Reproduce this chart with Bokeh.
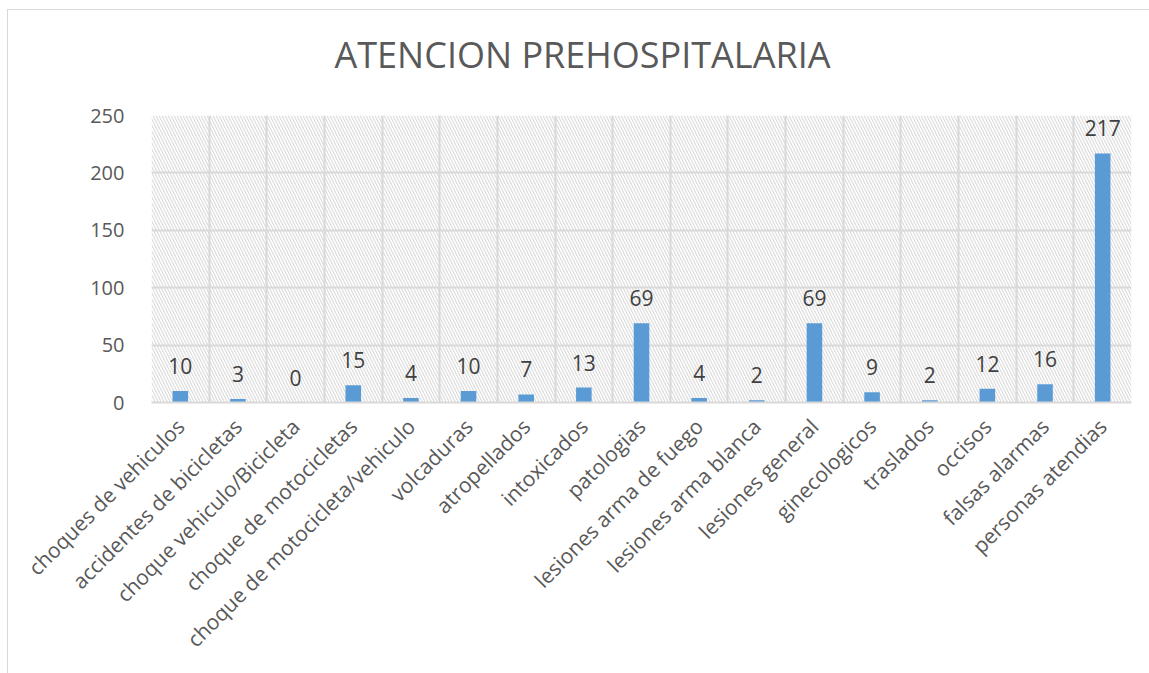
import math
from bokeh.plotting import figure
from bokeh.models import ColumnDataSource, FixedTicker, LabelSet, BoxAnnotation, Range1d, Title
from bokeh.core.properties import value
from bokeh.embed import file_html
from bokeh.resources import INLINE

categories = ["choques de vehiculos", "accidentes de bicicletas", "choque vehiculo/Bicicleta",
              "choque de motocicletas", "choque de motocicleta/vehiculo", "volcaduras",
              "atropellados", "intoxicados", "patologias", "lesiones arma de fuego",
              "lesiones arma blanca", "lesiones general", "ginecologicos", "traslados",
              "occisos", "falsas alarmas", "personas atendias"]
values = [10, 3, 0, 15, 4, 10, 7, 13, 69, 4, 2, 69, 9, 2, 12, 16, 217]
y_ticks = [0, 50, 100, 150, 200, 250]
title_text = "ATENCION  PREHOSPITALARIA"

FONT = "Open Sans"
n = len(categories)
xs = [i + 0.5 for i in range(n)]

source = ColumnDataSource(data=dict(x=xs, value=values, label=[str(v) for v in values]))

p = figure(width=1142, height=664, output_backend="svg", toolbar_location=None,
           x_range=Range1d(0, n), y_range=Range1d(0, 250),
           min_border_left=143, min_border_right=19, min_border_top=105, min_border_bottom=272)
p.margin = (9, 0, 0, 7)
p.styles = {"border-left": "1px solid #d9d9d9", "border-top": "1px solid #d9d9d9"}

# spacer between title and plot frame (closest to frame)
spacer = Title(text=" ", text_font=FONT, text_font_size="10px", standoff=21, text_color="white")
p.add_layout(spacer, "above")

main_title = Title(text=title_text, text_font=FONT, text_font_size="36px",
                   text_font_style="normal", text_color="#595959",
                   align="left", offset=183, standoff=0)
p.add_layout(main_title, "above")

p.outline_line_color = None
p.background_fill_color = "white"
p.border_fill_color = "white"

bg = BoxAnnotation(fill_color="white", fill_alpha=1.0, line_color=None,
                   hatch_pattern="\\", hatch_color="#dcdcdc", hatch_scale=6, hatch_weight=1.2,
                   level="image")
p.add_layout(bg)

p.vbar(x="x", top="value", width=0.27, source=source, fill_color="#5B9BD5", line_color=None)

labels = LabelSet(x="x", y="value", text="label", source=source, y_offset=17,
                  text_align="center", text_baseline="alphabetic",
                  text_font=value(FONT), text_font_size="21px", text_color="#404040")
p.add_layout(labels)

p.xaxis.ticker = FixedTicker(ticks=xs)
p.xaxis.major_label_overrides = {x: c for x, c in zip(xs, categories)}
p.xaxis.major_label_orientation = math.pi / 4
p.xaxis.major_label_text_font = FONT
p.xaxis.major_label_text_font_size = "21px"
p.xaxis.major_label_text_color = "#595959"
p.xaxis.major_tick_line_color = None
p.xaxis.minor_tick_line_color = None
p.xaxis.axis_line_color = "#d9d9d9"
p.xaxis.axis_line_width = 2
p.xaxis.major_label_standoff = 14

p.yaxis.ticker = FixedTicker(ticks=y_ticks)
p.yaxis.major_label_text_font = FONT
p.yaxis.major_label_text_font_size = "20px"
p.yaxis.major_label_text_color = "#595959"
p.yaxis.major_tick_line_color = None
p.yaxis.minor_tick_line_color = None
p.yaxis.axis_line_color = None
p.yaxis.major_label_standoff = 21

p.xgrid.ticker = FixedTicker(ticks=list(range(n + 1)))
p.xgrid.grid_line_color = "#d9d9d9"
p.xgrid.grid_line_width = 2
p.ygrid.grid_line_color = "#d9d9d9"
p.ygrid.grid_line_width = 2

open("out.html", "w").write(file_html(p, INLINE))
